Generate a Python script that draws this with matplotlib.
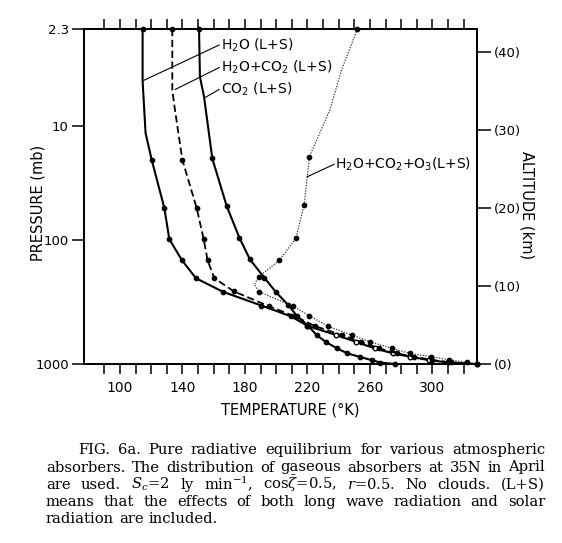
import matplotlib
matplotlib.use('Agg')
import matplotlib.pyplot as plt

# pressure labels on the left and the altitude (km) they sit at
pres_labels = ['2.3', '10', '100', '1000']
pres_alt = [42.95, 30.5, 15.9, 0.0]
alt_ticks = [0, 10, 20, 30, 40]
temp_ticks = list(range(90, 321, 10))
temp_labels = [100, 140, 180, 220, 260, 300]

# H2O (L+S)
h2o_alt = [42.95, 36.3, 29.6, 26.2, 20.0, 16.0, 13.3, 11.0, 9.25, 7.5, 6.1,
           4.9, 3.7, 2.85, 2.0, 1.35, 0.94, 0.5, 0.2, 0.0]
h2o_temp = [114.5, 114.5, 116.4, 120.3, 128.4, 131.6, 139.7, 148.6, 166.0, 190.5, 209.5,
            220.0, 238.5, 251.0, 263.0, 275.0, 285.5, 297.6, 310.0, 328.5]

# H2O+CO2 (L+S)
h2o_co2_alt = [42.95, 35.1, 32.6, 26.2, 20.0, 16.0, 13.3, 11.0, 9.3, 7.4, 6.1,
               4.85, 3.7, 2.85, 2.0, 1.35, 0.94, 0.5, 0.2, 0.0]
h2o_co2_temp = [133.5, 133.5, 135.2, 139.9, 149.1, 153.6, 156.1, 160.4, 173.0, 195.5, 212.0,
                225.0, 242.0, 254.0, 266.0, 277.5, 288.0, 300.0, 312.0, 328.5]

# CO2 (L+S)
co2_alt = [42.95, 36.8, 34.3, 26.35, 20.26, 16.2, 13.4, 11.07, 9.27, 7.56, 6.1,
           4.9, 3.7, 2.85, 2.0, 1.36, 0.92, 0.5, 0.19, 0.0]
co2_temp = [150.6, 151.2, 153.8, 159.1, 168.3, 176.4, 183.2, 192.4, 199.6, 207.7, 213.5,
            220.5, 225.9, 231.6, 238.9, 245.6, 253.4, 261.0, 266.7, 276.0]

# H2O+CO2+O3 (L+S)
o3_alt = [42.95, 37.7, 32.6, 26.6, 20.4, 16.1, 13.3, 11.2, 10.2, 9.27, 7.4, 6.2,
          4.85, 3.7, 2.86, 2.0, 1.36, 0.94, 0.55, 0.2, 0.0]
o3_temp = [252.0, 241.8, 234.4, 221.3, 217.9, 212.6, 202.0, 189.0, 186.0, 189.0, 211.0, 221.0,
           233.0, 248.5, 260.0, 274.0, 285.6, 299.0, 310.5, 322.0, 328.5]

W, H = 562, 543


def fx(px):
    return px / W


def fy(py):
    return 1 - py / H


plt.rcParams['mathtext.fontset'] = 'dejavuserif'

fig = plt.figure(figsize=(W / 100, H / 100), dpi=100)
ax = fig.add_axes([fx(84), fy(364), fx(477) - fx(84), fy(29) - fy(364)])
ax.set_xlim(77.0, 328.5)
ax.set_ylim(0, 42.95)

mk = dict(marker='o', ms=3.1, mec='black', mfc='black', clip_on=False)

ax.plot(h2o_temp, h2o_alt, '-', color='black', lw=1.5,
        markevery=[0, 3, 4, 5, 6, 7, 8, 9, 10], **mk)
ax.plot(h2o_temp[11:], h2o_alt[11:], 'o', ms=3.3, mec='black', mfc='white', mew=1, clip_on=False)
ax.plot(h2o_co2_temp, h2o_co2_alt, color='black', lw=1.3, ls=(0, (4, 2)),
        markevery=[0] + list(range(3, 20)), **mk)
ax.plot(co2_temp, co2_alt, '-', color='black', lw=1.5,
        markevery=[0] + list(range(3, 20)), **mk)
ax.plot(o3_temp, o3_alt, color='#333333', lw=0.9, ls=(0, (1, 1.2)),
        markevery=[0, 3, 4, 5, 6, 7] + list(range(9, 20)), **mk)

# curve labels with leader lines
lab = dict(fontsize=10, va='center', ha='left', color='black', fontfamily='DejaVu Sans')
ax.plot([114.6, 163.5], [36.3, 40.9], color='black', lw=0.8)
ax.text(164.5, 40.9, 'H$_\\mathsf{2}$O (L+S)', **lab)
ax.plot([135.4, 163.5], [35.2, 38.0], color='black', lw=0.8)
ax.text(164.5, 38.0, 'H$_\\mathsf{2}$O+CO$_\\mathsf{2}$ (L+S)', **lab)
ax.plot([153.9, 163.5], [34.1, 35.2], color='black', lw=0.8)
ax.text(164.5, 35.2, 'CO$_\\mathsf{2}$ (L+S)', **lab)
ax.plot([219.8, 237.0], [24.0, 25.6], color='black', lw=0.8)
ax.text(237.8, 25.6, 'H$_\\mathsf{2}$O+CO$_\\mathsf{2}$+O$_\\mathsf{3}$(L+S)', **lab)

# axes frame and ticks
for s in ax.spines.values():
    s.set_linewidth(1.3)
ax.set_xticks(temp_ticks)
ax.set_xticklabels([str(t) if t in temp_labels else '' for t in temp_ticks], fontsize=10)
ax.tick_params(axis='x', direction='out', length=7, width=1.1, top=True, pad=5)
ax.set_yticks(pres_alt)
ax.set_yticklabels(pres_labels, fontsize=9.5)
ax.tick_params(axis='y', direction='out', length=9, width=1.1, pad=2)
yt = ax.yaxis.get_major_ticks()
yt[0].tick1line.set_visible(False)
yt[3].tick1line.set_visible(False)

ax2 = ax.twinx()
ax2.set_ylim(0, 42.95)
ax2.set_yticks(alt_ticks)
ax2.set_yticklabels(['(%d)' % a for a in alt_ticks], fontsize=9.5)
ax2.tick_params(axis='y', direction='out', length=10, width=1.1, pad=2)
for s in ax2.spines.values():
    s.set_linewidth(1.3)

fig.text(fx(290), fy(410), 'TEMPERATURE (°K)', fontsize=10.5, ha='center', va='center')
fig.text(fx(38), fy(203), 'PRESSURE (mb)', fontsize=10.5, ha='center', va='center', rotation=90)
fig.text(fx(527), fy(205), 'ALTITUDE (km)', fontsize=10.5, ha='center', va='center', rotation=-90)

# caption, justified line by line
cap = dict(fontsize=10.6, family='DejaVu Serif', va='baseline', ha='left')
caption = [
    ('FIG. 6a. Pure radiative equilibrium for various atmospheric', 78, 545, 454, True),
    ('absorbers. The distribution of gaseous absorbers at 35N in April', 46, 545, 471.5, True),
    (r'are used. $S_c$=2 ly min$^{-1}$, cos$\bar{\zeta}$=0.5, $r$=0.5. No clouds. (L+S)', 46, 545, 489, True),
    ('means that the effects of both long wave radiation and solar', 46, 545, 506, True),
    ('radiation are included.', 46, 545, 523, False),
]
renderer = fig.canvas.get_renderer()
for line, x0, x1, yb, just in caption:
    words = line.split(' ')
    texts = [fig.text(0, fy(yb), w, **cap) for w in words]
    widths = [t.get_window_extent(renderer).width for t in texts]
    if just:
        gap = (x1 - x0 - sum(widths)) / (len(words) - 1)
    else:
        gap = 5.0
    x = x0
    for t, w in zip(texts, widths):
        t.set_x(fx(x))
        x += w + gap

fig.savefig('out.png', dpi=100)
